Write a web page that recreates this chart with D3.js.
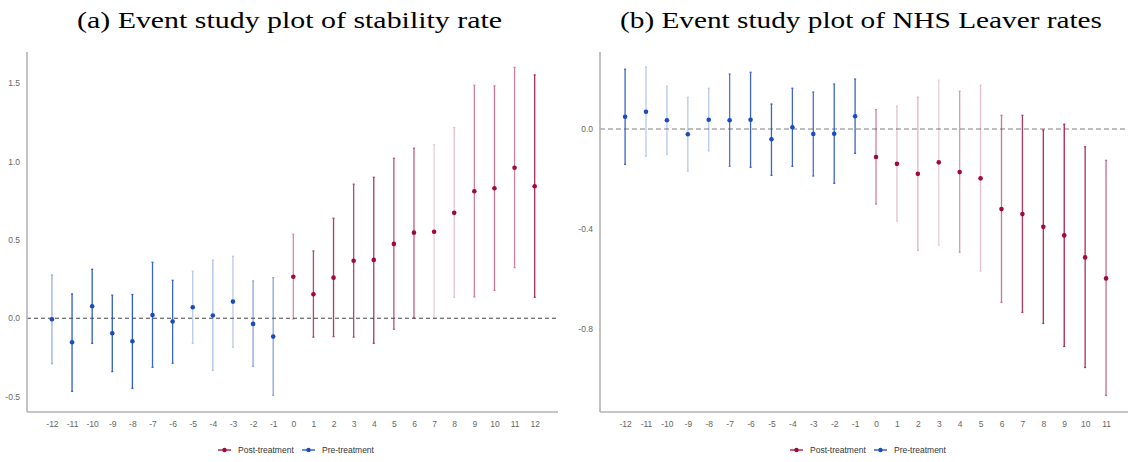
<!DOCTYPE html>
<html>
<head>
<meta charset="utf-8">
<script src="https://cdn.jsdelivr.net/npm/d3@7"></script>
<style>
body{margin:0;background:#fff;}
svg{display:block;}
</style>
</head>
<body>
<div id="container"></div>
<script>
// panel (a): stability rate
let periodsA = [-12,-11,-10,-9,-8,-7,-6,-5,-4,-3,-2,-1,0,1,2,3,4,5,6,7,8,9,10,11,12];
let estA = [-0.006,-0.153,0.076,-0.096,-0.147,0.021,-0.021,0.070,0.017,0.106,-0.036,-0.117,
	0.265,0.153,0.259,0.367,0.372,0.474,0.546,0.552,0.672,0.810,0.829,0.960,0.842];
let loA = [-0.290,-0.466,-0.160,-0.340,-0.447,-0.313,-0.287,-0.160,-0.332,-0.185,-0.306,-0.491,
	-0.005,-0.121,-0.117,-0.121,-0.160,-0.070,0.004,0.000,0.134,0.136,0.178,0.323,0.134];
let hiA = [0.276,0.155,0.312,0.147,0.151,0.357,0.242,0.300,0.370,0.395,0.238,0.259,
	0.535,0.429,0.638,0.855,0.899,1.020,1.084,1.107,1.216,1.486,1.482,1.600,1.552];
let weightA = [0.45,0.9,0.9,0.9,0.9,0.85,0.85,0.3,0.35,0.3,0.5,0.5,
	0.45,0.75,0.8,0.75,0.8,0.7,0.65,0.2,0.25,0.5,0.55,0.5,0.85];

// panel (b): NHS leaver rates
let periodsB = [-12,-11,-10,-9,-8,-7,-6,-5,-4,-3,-2,-1,0,1,2,3,4,5,6,7,8,9,10,11];
let estB = [0.049,0.069,0.035,-0.021,0.037,0.035,0.037,-0.041,0.007,-0.020,-0.019,0.051,
	-0.112,-0.139,-0.179,-0.133,-0.172,-0.197,-0.320,-0.340,-0.391,-0.425,-0.513,-0.597];
let loB = [-0.141,-0.108,-0.101,-0.168,-0.087,-0.149,-0.153,-0.185,-0.149,-0.188,-0.217,-0.097,
	-0.300,-0.368,-0.485,-0.464,-0.493,-0.567,-0.693,-0.733,-0.777,-0.869,-0.953,-1.065];
let hiB = [0.239,0.248,0.171,0.127,0.163,0.220,0.227,0.100,0.163,0.148,0.180,0.200,
	0.077,0.091,0.127,0.195,0.151,0.175,0.055,0.055,-0.004,0.019,-0.071,-0.125];
let weightB = [0.85,0.3,0.3,0.3,0.3,0.75,0.85,0.85,0.85,0.8,0.85,0.85,
	0.5,0.25,0.3,0.2,0.4,0.25,0.55,0.8,0.85,0.9,0.85,0.6];

let ticksA = [-0.5,0,0.5,1,1.5];
let ticksB = [-0.8,-0.4,0];
let groups = ["Post-treatment","Pre-treatment"];
let colors = {"Post-treatment":"#a0093a","Pre-treatment":"#1a4cbd"};

let W = 1130, H = 462;
let svg = d3.select("#container").append("svg").attr("width",W).attr("height",H);

// hyphen minus like the original, not the unicode minus
function fmt(spec){
	let f = d3.format(spec);
	return d => f(d).replace("\u2212","-");
}

function drawPanel(opt){
	let rows = opt.periods.map((p,i) => ({p:p, est:opt.est[i], lo:opt.lo[i], hi:opt.hi[i], w:opt.weight[i],
		g: p < 0 ? "Pre-treatment" : "Post-treatment"}));
	let x = d3.scaleLinear().domain(opt.xdom).range([opt.left, opt.right]);
	let y = d3.scaleLinear().domain(opt.ydom).range([412, 52]);
	let alpha = d3.scaleLinear().domain([0,1]).range([0,1]);
	let g = svg.append("g");

	// title
	g.append("text").attr("x",opt.titleX).attr("y",28)
		.attr("text-anchor","middle")
		.attr("textLength",opt.titleW).attr("lengthAdjust","spacingAndGlyphs")
		.style("font-family","'Liberation Serif', 'DejaVu Serif', serif")
		.style("font-size","24px").attr("fill","#000")
		.text(opt.title);

	// zero line
	g.append("line").attr("x1",opt.left).attr("x2",opt.right)
		.attr("y1",y(0)).attr("y2",y(0))
		.attr("stroke",opt.zeroColor).attr("stroke-width",opt.zeroWidth)
		.attr("stroke-dasharray",opt.zeroDash);

	// error bars
	let bars = g.selectAll("g.bar").data(rows).enter().append("g")
		.attr("opacity",d => alpha(d.w));
	bars.append("line").attr("x1",d=>x(d.p)).attr("x2",d=>x(d.p))
		.attr("y1",d=>y(d.lo)).attr("y2",d=>y(d.hi))
		.attr("stroke",d=>colors[d.g]).attr("stroke-width",1.3);
	bars.append("line").attr("x1",d=>x(d.p)-1).attr("x2",d=>x(d.p)+1)
		.attr("y1",d=>y(d.lo)).attr("y2",d=>y(d.lo))
		.attr("stroke",d=>colors[d.g]).attr("stroke-width",1.3);
	bars.append("line").attr("x1",d=>x(d.p)-1).attr("x2",d=>x(d.p)+1)
		.attr("y1",d=>y(d.hi)).attr("y2",d=>y(d.hi))
		.attr("stroke",d=>colors[d.g]).attr("stroke-width",1.3);

	// points
	g.selectAll("circle.pt").data(rows).enter().append("circle")
		.attr("cx",d=>x(d.p)).attr("cy",d=>y(d.est)).attr("r",2.3)
		.attr("fill",d=>colors[d.g]);

	// axes
	let ax = g.append("g").attr("transform","translate(0,412)")
		.call(d3.axisBottom(x).tickValues(opt.periods).tickFormat(fmt("d")).tickSize(0).tickPadding(9));
	let ay = g.append("g").attr("transform","translate("+opt.left+",0)")
		.call(d3.axisLeft(y).tickValues(opt.yticks).tickFormat(fmt(".1f")).tickSize(0).tickPadding(7));
	[ax,ay].forEach(a => {
		a.select(".domain").attr("stroke","#b3b3b3").attr("stroke-width",1.6);
		a.selectAll("text").attr("fill","#666").style("font-family","'Liberation Sans', Arial, sans-serif").style("font-size","8.5px");
	});
	ax.select(".domain").attr("d","M"+opt.left+",0H"+opt.right);
	ay.select(".domain").attr("d","M0,412V52");

	// legend
	let lg = g.append("g").attr("transform","translate("+opt.legendX+",450)");
	let offs = [0, 84];
	groups.forEach((name,i) => {
		let it = lg.append("g").attr("transform","translate("+offs[i]+",0)");
		it.append("line").attr("x1",0).attr("x2",13).attr("y1",0).attr("y2",0)
			.attr("stroke",colors[name]).attr("stroke-width",1.3);
		it.append("circle").attr("cx",6.5).attr("cy",0).attr("r",2.2).attr("fill",colors[name]);
		it.append("text").attr("x",20).attr("y",3.2).attr("fill","#333")
			.style("font-family","'Liberation Sans', Arial, sans-serif").style("font-size","8.5px")
			.text(name);
	});
}

drawPanel({periods:periodsA, est:estA, lo:loA, hi:hiA, weight:weightA,
	xdom:[-13.24,13.16], left:27, right:558, ydom:[-0.598,1.698], yticks:ticksA,
	title:"(a) Event study plot of stability rate", titleX:289.5, titleW:425,
	zeroColor:"#444", zeroWidth:1, zeroDash:"4,3", legendX:218});
drawPanel({periods:periodsB, est:estB, lo:loB, hi:hiB, weight:weightB,
	xdom:[-13.2,12.05], left:600, right:1128, ydom:[-1.131,0.308], yticks:ticksB,
	title:"(b) Event study plot of NHS Leaver rates", titleX:861, titleW:482,
	zeroColor:"#aaa", zeroWidth:1.6, zeroDash:"5,3", legendX:790});
</script>
</body>
</html>
